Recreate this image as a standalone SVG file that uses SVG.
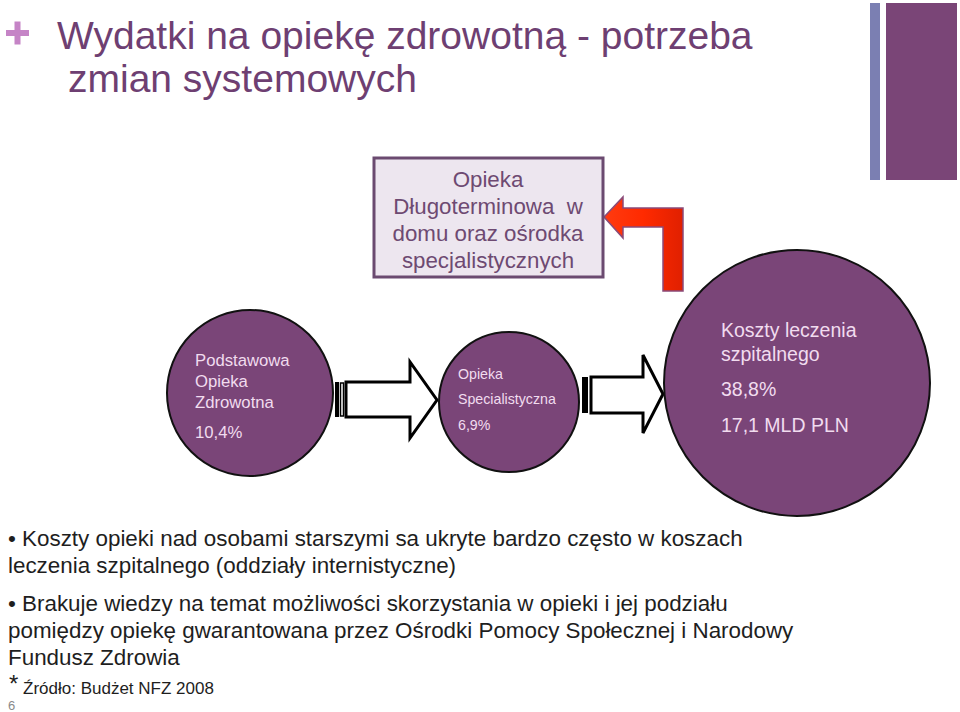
<svg xmlns="http://www.w3.org/2000/svg" width="960" height="712" viewBox="0 0 960 712">
<defs>
<style>
text{font-family:"Liberation Sans",Arial,sans-serif}
.title{font-size:39px;fill:#6e3f72}
.circ{fill:#7a4578;stroke:#111;stroke-width:2}
.ct{fill:#f1dcef}
.blk{fill:#fff;stroke:#000;stroke-width:3;stroke-linejoin:miter}
.body{font-size:22.4px;fill:#1e1e1e}
.box{fill:#ede6ef;stroke:#6b4a70;stroke-width:3}
.bt{font-size:22.3px;fill:#6e4a72;text-anchor:middle}
</style>
<linearGradient id="red" x1="0" y1="0" x2="1" y2="0">
<stop offset="0" stop-color="#ff3b10"/>
<stop offset="0.5" stop-color="#ff2a00"/>
<stop offset="1" stop-color="#e02000"/>
</linearGradient>
</defs>
<rect width="960" height="712" fill="#fff"/>
<!-- decorations -->
<rect x="870" y="3" width="10" height="177" fill="#7b7fb2"/>
<rect x="886" y="3" width="71" height="177" fill="#7a4577"/>
<g fill="#c584c6"><rect x="6" y="30" width="23" height="6"/><rect x="14.5" y="21.5" width="6" height="23"/></g>
<text class="title" x="57" y="49">Wydatki na opiekę zdrowotną - potrzeba</text>
<text class="title" x="68" y="92">zmian systemowych</text>

<g id="connectors">
<g id="arrow1">
<rect x="335" y="382" width="4" height="35" fill="#000"/>
<rect x="340.5" y="383" width="3" height="33" fill="#fff" stroke="#000" stroke-width="1.5"/>
<path class="blk" d="M346 382 H410 V362 L437 400 L410 438 V417 H346 Z"/>
</g>
<g id="arrow2">
<rect x="582" y="377" width="6" height="36" fill="#000"/>
<path class="blk" d="M591 377 H643 V355 L663 394 L643 433 V413 H591 Z"/>
</g>
<path id="redarrow" d="M604 217 L623 197 V208 H683 V291 H663 V227 H623 V238 Z" fill="url(#red)" stroke="#8a4a78" stroke-width="1.5"/>
</g>

<g id="node-longterm">
<rect class="box" x="374" y="158" width="229" height="119"/>
<text class="bt" x="488" y="187">Opieka</text>
<text class="bt" x="488" y="214" xml:space="preserve">Długoterminowa  w</text>
<text class="bt" x="488" y="241">domu oraz ośrodka</text>
<text class="bt" x="488" y="268">specjalistycznych</text>
</g>

<g id="node-poz">
<circle class="circ" cx="250" cy="393" r="83"/>
<g class="ct" font-size="16.7">
<text x="195" y="366">Podstawowa</text>
<text x="195" y="387">Opieka</text>
<text x="195" y="408">Zdrowotna</text>
<text x="195" y="438">10,4%</text>
</g>
</g>

<g id="node-spec">
<circle class="circ" cx="509" cy="402" r="70"/>
<g class="ct" font-size="14.2">
<text x="458" y="379">Opieka</text>
<text x="458" y="404">Specialistyczna</text>
<text x="458" y="430">6,9%</text>
</g>
</g>

<g id="node-hosp">
<circle class="circ" cx="797" cy="383" r="133"/>
<g class="ct" font-size="19.5">
<text x="721" y="337">Koszty leczenia</text>
<text x="721" y="361">szpitalnego</text>
<text x="721" y="396">38,8%</text>
<text x="721" y="432">17,1 MLD PLN</text>
</g>
</g>

<g id="notes">
<text class="body" x="8" y="546">• Koszty opieki nad osobami starszymi sa ukryte bardzo często w koszach</text>
<text class="body" x="8" y="573">leczenia szpitalnego (oddziały internistyczne)</text>
<text class="body" x="8" y="611">• Brakuje wiedzy na temat możliwości skorzystania w opieki i jej podziału</text>
<text class="body" x="8" y="638">pomiędzy opiekę gwarantowana przez Ośrodki Pomocy Społecznej i Narodowy</text>
<text class="body" x="8" y="665">Fundusz Zdrowia</text>
<text x="9" y="692" font-size="24" fill="#1e1e1e">*</text>
<text x="23" y="694" font-size="17" fill="#1e1e1e">Źródło: Budżet NFZ 2008</text>
<text x="8" y="710" font-size="13" fill="#8a8a8a">6</text>
</g>
</svg>
